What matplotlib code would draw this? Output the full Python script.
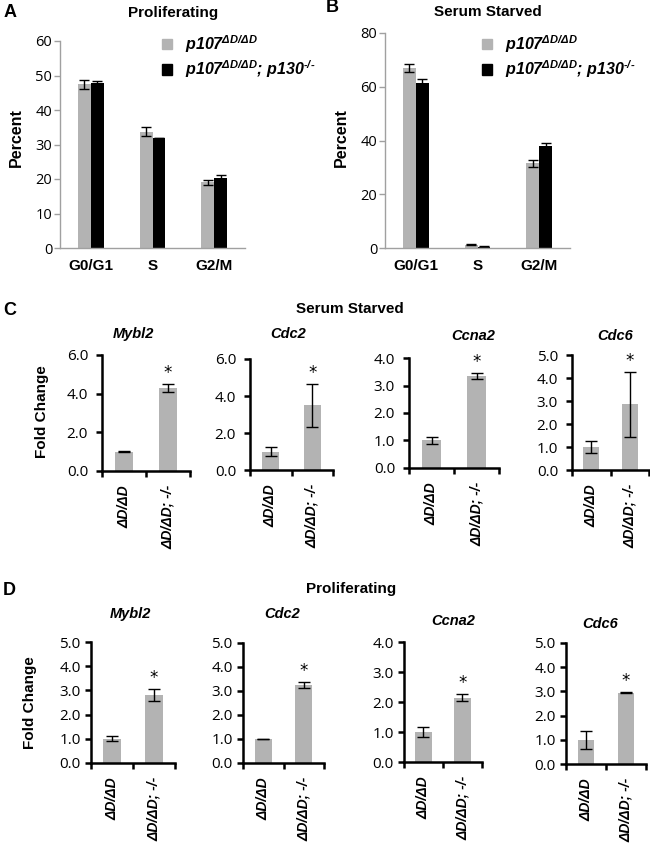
import matplotlib
matplotlib.use('Agg')
import matplotlib.pyplot as plt
from matplotlib.patches import Patch
from matplotlib.font_manager import FontProperties

plt.rcParams['font.family'] = ['Liberation Sans', 'DejaVu Sans']
plt.rcParams['mathtext.fontset'] = 'custom'
for k in ['rm', 'it', 'bf', 'sf']:
    plt.rcParams['mathtext.' + k] = 'Liberation Sans:bold:italic'

W, H = 650, 850

# ---------------- data ----------------
phases = ['G0/G1', 'S', 'G2/M']
series_labels = [r'$p107^{ΔD/ΔD}$', r'$p107^{ΔD/ΔD}$; $p130^{\text{-/-}}$']
prolif_ctrl = [47.4, 33.7, 19.0]
prolif_ctrl_err = [1.3, 1.3, 0.75]
prolif_dko = [47.7, 32.0, 20.3]
prolif_dko_err = [0.8, 0.0, 0.75]
starved_ctrl = [67.0, 1.2, 31.5]
starved_ctrl_err = [1.5, 0.15, 1.3]
starved_dko = [61.5, 0.5, 38.0]
starved_dko_err = [1.2, 0.1, 1.2]

genes = ['Mybl2', 'Cdc2', 'Ccna2', 'Cdc6']
genotypes = ['ΔD/ΔD', 'ΔD/ΔD; -/-']
ss_ctrl = [1.0, 1.0, 1.0, 1.0]
ss_ctrl_err = [0.03, 0.25, 0.14, 0.25]
ss_dko = [4.3, 3.5, 3.35, 2.85]
ss_dko_err = [0.2, 1.15, 0.1, 1.4]
pr_ctrl = [1.0, 1.0, 1.0, 1.0]
pr_ctrl_err = [0.1, 0.02, 0.17, 0.38]
pr_dko = [2.8, 3.25, 2.15, 2.95]
pr_dko_err = [0.25, 0.13, 0.13, 0.02]
ss_ymax = [6, 6, 4, 5]
ss_step = [2, 2, 1, 1]
pr_ymax = [5, 5, 4, 5]
pr_step = [1, 1, 1, 1]

GRAY = '#b3b3b3'
AXGRAY = '#a0a0a0'
NUMFONT = 'Open Sans'

fig = plt.figure(figsize=(W / 100, H / 100), dpi=100)


def px_axes(x0, ytop, x1, ybot):
    return fig.add_axes([x0 / W, 1 - ybot / H, (x1 - x0) / W, (ybot - ytop) / H])


def ftext(x, y, s, **kw):
    fig.text(x / W, 1 - y / H, s, **kw)


def cell_cycle(box, ctrl, ctrl_err, dko, dko_err, ymax, step, title, tx, legx):
    ax = px_axes(*box)
    xs = [i + 0.5 for i in range(len(phases))]
    ekw = dict(elinewidth=1, capthick=1, ecolor='black')
    ax.bar([x - 0.105 for x in xs], ctrl, width=0.21, color=GRAY,
           yerr=ctrl_err, capsize=3.5, error_kw=ekw)
    ax.bar([x + 0.105 for x in xs], dko, width=0.21, color='black',
           yerr=dko_err, capsize=3.5, error_kw=ekw)
    ax.set_xlim(0, len(phases))
    ax.set_ylim(0, ymax)
    ax.set_yticks(range(0, ymax + 1, step))
    ax.set_xticks(xs)
    ax.set_xticklabels(phases, fontsize=11, fontweight='bold')
    for s in ['top', 'right']:
        ax.spines[s].set_visible(False)
    for s in ['left', 'bottom']:
        ax.spines[s].set_color(AXGRAY)
        ax.spines[s].set_linewidth(1)
    ax.tick_params(axis='y', direction='out', length=4, width=1, color=AXGRAY,
                   pad=1.5, labelsize=10.5)
    for lab in ax.get_yticklabels():
        lab.set_fontfamily(NUMFONT)
    ax.tick_params(axis='x', length=0, pad=8)
    ax.patch.set_alpha(0)
    ax.legend([Patch(color=GRAY), Patch(color='black')], series_labels,
              prop=FontProperties(family='Liberation Sans', weight='bold',
                                  style='italic', size=11.5),
              frameon=False, handlelength=0.65, handleheight=0.65,
              handletextpad=0.8, labelspacing=0.25, loc='upper left',
              bbox_to_anchor=(legx / W, 1 - 33 / H),
              bbox_transform=fig.transFigure, borderpad=0, borderaxespad=0)
    ftext(tx, 16.5, title, fontsize=11, fontweight='bold', ha='center', va='baseline')
    return ax


cell_cycle((60, 41, 245, 248), prolif_ctrl, prolif_ctrl_err, prolif_dko,
           prolif_dko_err, 60, 10, 'Proliferating', 173, 162)
cell_cycle((385, 33, 570, 248), starved_ctrl, starved_ctrl_err, starved_dko,
           starved_dko_err, 80, 20, 'Serum Starved', 488, 482)
ftext(16, 138, 'Percent', rotation=90, fontsize=11.5, fontweight='bold',
      ha='center', va='center')
ftext(341, 138, 'Percent', rotation=90, fontsize=11.5, fontweight='bold',
      ha='center', va='center')


def fold_panel(box, i, ctrl, ctrl_err, dko, dko_err, ymax, step, gx, gy, ypad):
    ax = px_axes(*box)
    ekw = dict(elinewidth=1, capthick=1, ecolor='black')
    ax.bar([0.5, 1.5], [ctrl[i], dko[i]], width=0.42, color=GRAY,
           yerr=[ctrl_err[i], dko_err[i]], capsize=4.5, error_kw=ekw)
    ax.set_xlim(0, 2)
    ax.set_ylim(0, ymax[i])
    ax.set_yticks(range(0, ymax[i] + 1, step[i]))
    ax.set_yticklabels(['%.1f' % v for v in range(0, ymax[i] + 1, step[i])],
                       fontfamily=NUMFONT, fontsize=11)
    ax.set_xticks([0.5, 1.5])
    ax.set_xticklabels(genotypes, rotation=90, fontsize=10, fontweight='bold',
                       fontstyle='italic')
    ax.set_xticks([0, 1, 2], minor=True)
    ax.tick_params(axis='x', which='major', length=0, pad=10)
    ax.tick_params(axis='x', which='minor', length=4, width=1.8, direction='out')
    ax.tick_params(axis='y', length=4, width=1.8, direction='out', pad=ypad)
    for s in ['top', 'right']:
        ax.spines[s].set_visible(False)
    for s in ['left', 'bottom']:
        ax.spines[s].set_linewidth(1.8)
        ax.spines[s].set_color('black')
    ax.patch.set_alpha(0)
    ax.annotate('*', xy=(1.5, dko[i] + dko_err[i]), xytext=(0, 1.5),
                textcoords='offset points', ha='center', va='bottom',
                fontsize=12, family='DejaVu Sans')
    ftext(gx, gy, genes[i], fontsize=10.5, fontweight='bold', fontstyle='italic',
          ha='center', va='baseline')
    return ax


c_boxes = [(102, 355, 190, 471), (250, 359, 333, 470), (409, 358, 499, 468),
           (572, 355, 649, 470)]
c_titles = [(133, 338), (288, 338), (473, 340), (615, 340)]
for i in range(4):
    fold_panel(c_boxes[i], i, ss_ctrl, ss_ctrl_err, ss_dko, ss_dko_err,
               ss_ymax, ss_step, c_titles[i][0], c_titles[i][1], 6)

d_boxes = [(91, 642, 175, 763), (243, 643, 324, 763), (404, 642, 482, 762),
           (566, 643, 646, 764)]
d_titles = [(130, 618), (282, 618), (453, 625), (600, 628)]
for i in range(4):
    fold_panel(d_boxes[i], i, pr_ctrl, pr_ctrl_err, pr_dko, pr_dko_err,
               pr_ymax, pr_step, d_titles[i][0], d_titles[i][1], 3.5)

ftext(42, 412, 'Fold Change', rotation=90, fontsize=11, fontweight='bold',
      ha='center', va='center')
ftext(30, 703, 'Fold Change', rotation=90, fontsize=11, fontweight='bold',
      ha='center', va='center')
ftext(350, 313, 'Serum Starved', fontsize=11, fontweight='bold', ha='center',
      va='baseline')
ftext(351, 593, 'Proliferating', fontsize=11, fontweight='bold', ha='center',
      va='baseline')

for lab, x, y in [('A', 4, 17), ('B', 326, 12), ('C', 3, 315), ('D', 3, 595)]:
    ftext(x, y, lab, fontsize=13, fontweight='bold', ha='left', va='baseline')

fig.savefig('out.png', dpi=100)
